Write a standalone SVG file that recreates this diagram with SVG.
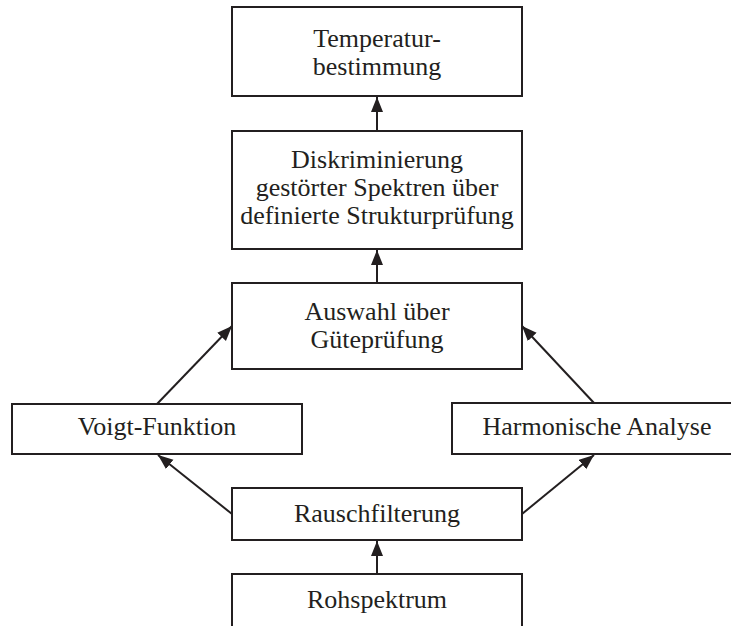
<svg xmlns="http://www.w3.org/2000/svg" width="731" height="626" viewBox="0 0 731 626">
  <style>
    .box { fill: #ffffff; stroke: #231f20; stroke-width: 2; }
    .label { font-family: "Liberation Serif", "Times New Roman", serif; font-size: 26px; fill: #231f20; text-anchor: middle; }
    .edge { stroke: #231f20; stroke-width: 2; fill: none; marker-end: url(#arrow); }
  </style>
  <defs>
    <marker id="arrow" markerUnits="userSpaceOnUse" markerWidth="16" markerHeight="13" refX="15" refY="6" orient="auto">
      <path d="M0,0 L15,6 L0,12 z" fill="#231f20"/>
    </marker>
  </defs>
  <rect width="731" height="626" fill="#ffffff"/>

  <g id="connectors">
    <line class="edge" x1="377" y1="574" x2="377" y2="541"/>
    <line class="edge" x1="232" y1="514" x2="158" y2="455"/>
    <line class="edge" x1="522" y1="514" x2="594" y2="455"/>
    <line class="edge" x1="157" y1="404" x2="232" y2="326"/>
    <line class="edge" x1="594" y1="403" x2="522" y2="326"/>
    <line class="edge" x1="377" y1="283" x2="377" y2="250"/>
    <line class="edge" x1="377" y1="131" x2="377" y2="97"/>
  </g>

  <g id="temperaturbestimmung">
    <rect class="box" x="232" y="7" width="290" height="89"/>
    <text class="label" x="377" y="47">Temperatur-</text>
    <text class="label" x="377" y="75">bestimmung</text>
  </g>

  <g id="diskriminierung">
    <rect class="box" x="232" y="131" width="290" height="118"/>
    <text class="label" x="377" y="168">Diskriminierung</text>
    <text class="label" x="377" y="196">gestörter Spektren über</text>
    <text class="label" x="377" y="224">definierte Strukturprüfung</text>
  </g>

  <g id="auswahl">
    <rect class="box" x="232" y="283" width="290" height="86"/>
    <text class="label" x="377" y="320">Auswahl über</text>
    <text class="label" x="377" y="348">Güteprüfung</text>
  </g>

  <g id="voigt">
    <rect class="box" x="12" y="404" width="290" height="50"/>
    <text class="label" x="157" y="435">Voigt-Funktion</text>
  </g>

  <g id="harmonische">
    <rect class="box" x="452" y="403" width="290" height="51"/>
    <text class="label" x="597" y="435">Harmonische Analyse</text>
  </g>

  <g id="rauschfilterung">
    <rect class="box" x="232" y="488" width="290" height="52"/>
    <text class="label" x="377" y="522">Rauschfilterung</text>
  </g>

  <g id="rohspektrum">
    <rect class="box" x="232" y="574" width="290" height="60"/>
    <text class="label" x="377" y="608">Rohspektrum</text>
  </g>
</svg>
